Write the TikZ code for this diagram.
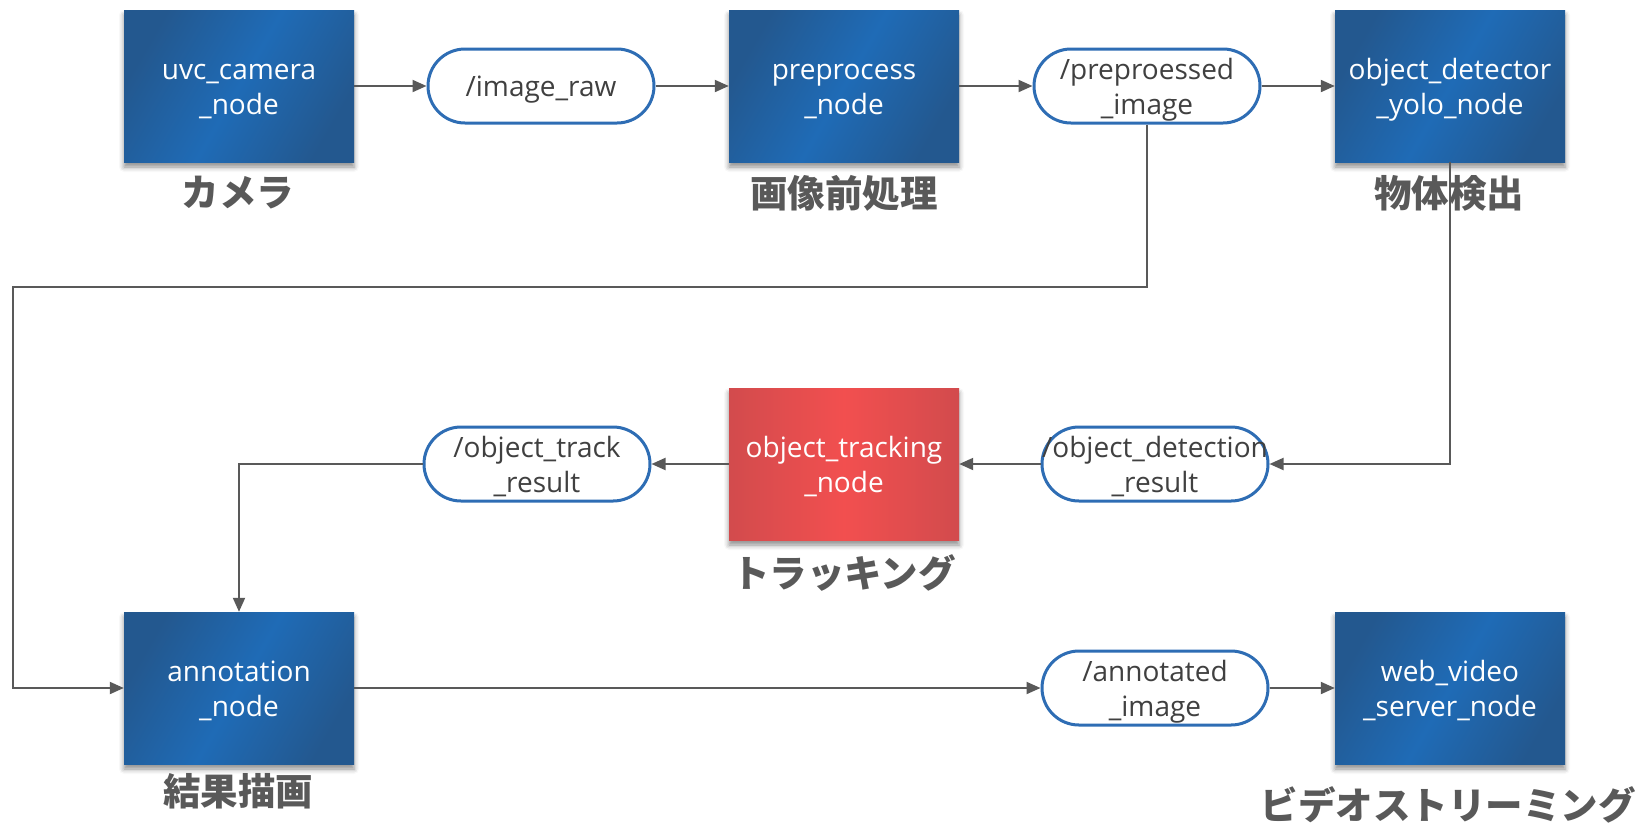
\documentclass[tikz,border=0pt]{standalone}
\usepackage{fontspec}
\setmainfont{Open Sans}
\newfontfamily\jpfont{Noto Sans CJK JP}
\usetikzlibrary{arrows.meta,shadows.blur}

\definecolor{bdark}{HTML}{23588F}
\definecolor{blight}{HTML}{1F6BB6}
\definecolor{rdark}{HTML}{D24B4D}
\definecolor{rlight}{HTML}{F24F4F}
\definecolor{pillblue}{HTML}{2E6DB4}
\definecolor{txtgray}{HTML}{404040}
\definecolor{linegray}{HTML}{595959}

\tikzset{
  boxfont/.style={font=\fontsize{28}{34.5}\selectfont},
  twolines/.style={text height=62pt, text depth=6pt},
  oneline/.style={text height=27pt, text depth=6pt},
  procbox/.style={rectangle, minimum width=230pt, minimum height=152pt,
    inner sep=0pt, align=center, text=white, boxfont, twolines,
    left color=bdark, right color=bdark, middle color=blight, shading angle=60,
    blur shadow={shadow xshift=0pt, shadow yshift=-5pt, shadow blur radius=5pt, shadow opacity=45}},
  redbox/.style={procbox, left color=rdark, right color=rdark, middle color=rlight},
  topic/.style={rectangle, rounded corners=37pt, minimum width=226pt, minimum height=74pt,
    inner sep=0pt, align=center, draw=pillblue, line width=3pt, fill=white,
    text=txtgray, boxfont, twolines},
  caption/.style={font=\jpfont\bfseries\fontsize{37.5}{42}\selectfont, text=linegray, inner sep=0pt},
  conn/.style={draw=linegray, line width=2pt, -{Triangle[length=14pt,width=12pt]}}
}

\begin{document}
\begin{tikzpicture}[x=1pt,y=-1pt]
  \useasboundingbox (0,0) rectangle (1639,823);

  % row 1: camera -> preprocessing -> detection
  \node[procbox] (uvc) at (239,86) {uvc\_camera\\\_node};
  \node[topic, oneline] (raw) at (541,86) {/image\_raw};
  \node[procbox] (pre) at (844,86) {preprocess\\\_node};
  \node[topic] (ppimg) at (1147,86) {/preproessed\\\_image};
  \node[procbox] (det) at (1450,86) {object\_detector\\\_yolo\_node};

  % row 2: tracking
  \node[topic] (trkres) at (537,464) {/object\_track\\\_result};
  \node[redbox] (trk) at (844,464) {object\_tracking\\\_node};
  \node[topic] (detres) at (1155,464) {/object\_detection\\\_result};

  % row 3: annotation and streaming
  \node[procbox] (ann) at (239,688) {annotation\\\_node};
  \node[topic] (annimg) at (1155,688) {/annotated\\\_image};
  \node[procbox] (web) at (1450,688) {web\_video\\\_server\_node};

  % captions under the nodes
  \node[caption] (capuvc) at (238,193) {カメラ};
  \node[caption] (cappre) at (844,193) {画像前処理};
  \node[caption] (capdet) at (1449,193) {物体検出};
  \node[caption] (captrk) at (844,573) {トラッキング};
  \node[caption] (capann) at (238,791) {結果描画};
  \node[caption] (capweb) at (1448,805) {ビデオストリーミング};

  % connectors
  \coordinate (loopcorner) at (13,287);
  \draw[conn] (uvc) -- (raw);
  \draw[conn] (raw) -- (pre);
  \draw[conn] (pre) -- (ppimg);
  \draw[conn] (ppimg) -- (det);
  \draw[conn] (ppimg.south) |- (loopcorner) |- (ann.west);
  \draw[conn] (det.south) |- (detres.east);
  \draw[conn] (detres) -- (trk);
  \draw[conn] (trk) -- (trkres);
  \draw[conn] (trkres.west) -| (ann.north);
  \draw[conn] (ann) -- (annimg);
  \draw[conn] (annimg) -- (web);
\end{tikzpicture}
\end{document}
